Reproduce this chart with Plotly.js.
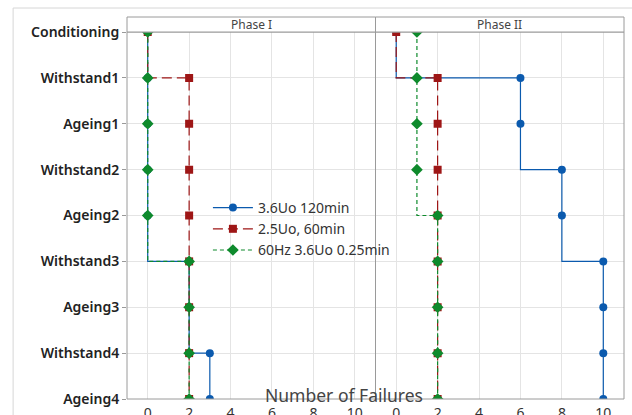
<!DOCTYPE html>
<html>
<head>
<meta charset="utf-8">
<script src="https://cdn.plot.ly/plotly-3.0.1.min.js"></script>
<style>html,body{margin:0;padding:0;background:#fff;}#chart{width:632px;height:415px;}</style>
</head>
<body>
<div id="chart"></div>
<script>
var categories = ['Conditioning','Withstand1','Ageing1','Withstand2','Ageing2','Withstand3','Ageing3','Withstand4','Ageing4'];
var seriesNames = ['3.6Uo 120min', '2.5Uo, 60min', '60Hz 3.6Uo 0.25min'];
var phaseLabels = ['Phase I', 'Phase II'];
var xTicks = [0, 2, 4, 6, 8, 10];

var phase1_36Uo = [0, 0, 0, 0, 0, 2, 2, 3, 3];
var phase1_25Uo = [0, 2, 2, 2, 2, 2, 2, 2, 2];
var phase1_60Hz = [0, 0, 0, 0, 0, 2, 2, 2, 2];
var phase2_36Uo = [0, 6, 6, 8, 8, 10, 10, 10, 10];
var phase2_25Uo = [0, 2, 2, 2, 2, 2, 2, 2, 2];
var phase2_60Hz = [1, 1, 1, 1, 2, 2, 2, 2, 2];

var colors = ['#0B5AAE', '#9E1616', '#0E8A2C'];
var symbols = ['circle', 'square', 'diamond'];
var dashes = ['solid', '10px,5px', '4px,3px'];

var phaseData = [[phase1_36Uo, phase1_25Uo, phase1_60Hz], [phase2_36Uo, phase2_25Uo, phase2_60Hz]];
var traces = [];
for (var p = 0; p < 2; p++) {
  for (var s = 0; s < 3; s++) {
    traces.push({
      type: 'scatter', mode: 'lines+markers',
      x: phaseData[p][s], y: categories,
      xaxis: p === 0 ? 'x' : 'x2', yaxis: 'y',
      name: seriesNames[s], legendgroup: seriesNames[s], showlegend: p === 0,
      line: {shape: 'vh', color: colors[s], width: 1.2, dash: dashes[s]},
      marker: {symbol: symbols[s], color: colors[s], size: s === 2 ? 9 : 8}
    });
  }
}

var W = 497.5, H = 367;
function px(v) { return (v - 127) / W; }
function py(v) { return (399 - v) / H; }

var axisCommon = {
  range: [-1, 11], tickvals: xTicks, ticktext: xTicks.map(String),
  showgrid: true, gridcolor: '#e4e4e4', gridwidth: 1, zeroline: false,
  showline: false, ticks: '', ticklabelstandoff: 4,
  tickfont: {family: 'Noto Sans', size: 14, color: '#333'}, anchor: 'y'
};
var xaxis1 = Object.assign({}, axisCommon, {domain: [0, 0.5]});
var xaxis2 = Object.assign({}, axisCommon, {domain: [0.5, 1]});

var layout = {
  width: 632, height: 415,
  margin: {l: 127, r: 7.5, t: 32, b: 16},
  paper_bgcolor: '#ffffff', plot_bgcolor: '#ffffff',
  showlegend: true,
  legend: {x: px(208), y: py(192), xanchor: 'left', yanchor: 'top', bgcolor: 'rgba(0,0,0,0)',
    font: {family: 'Noto Sans', size: 14, color: '#333'}, itemwidth: 40, tracegroupgap: 0},
  xaxis: xaxis1, xaxis2: xaxis2,
  yaxis: {type: 'category', categoryorder: 'array', categoryarray: categories, range: [8, 0],
    showgrid: true, gridcolor: '#e4e4e4', zeroline: false, showline: false,
    ticks: 'outside', ticklen: 4, tickcolor: '#999', tickwidth: 1,
    tickfont: {family: 'Noto Sans', size: 14, color: '#222', weight: 600}},
  shapes: [
    {type: 'rect', xref: 'paper', yref: 'paper', x0: px(13), x1: px(645), y0: py(425), y1: py(8), line: {color: '#d6d6d6', width: 1}, fillcolor: 'rgba(0,0,0,0)', layer: 'below'},
    {type: 'rect', xref: 'paper', yref: 'paper', x0: 0, x1: 0.5, y0: 0, y1: 1, line: {color: '#9a9a9a', width: 1}},
    {type: 'rect', xref: 'paper', yref: 'paper', x0: 0.5, x1: 1, y0: 0, y1: 1, line: {color: '#9a9a9a', width: 1}},
    {type: 'rect', xref: 'paper', yref: 'paper', x0: 0, x1: 0.5, y0: 1, y1: py(17), line: {color: '#9a9a9a', width: 1}, fillcolor: '#ffffff'},
    {type: 'rect', xref: 'paper', yref: 'paper', x0: 0.5, x1: 1, y0: 1, y1: py(17), line: {color: '#9a9a9a', width: 1}, fillcolor: '#ffffff'}
  ],
  annotations: [
    {text: phaseLabels[0], xref: 'paper', yref: 'paper', x: 0.25, y: py(24.5), xanchor: 'center', yanchor: 'middle', showarrow: false, font: {family: 'Noto Sans', size: 12, color: '#444'}},
    {text: phaseLabels[1], xref: 'paper', yref: 'paper', x: 0.75, y: py(24.5), xanchor: 'center', yanchor: 'middle', showarrow: false, font: {family: 'Noto Sans', size: 12, color: '#444'}},
    {text: 'Number of Failures', xref: 'paper', yref: 'paper', x: px(344), y: py(395), xanchor: 'center', yanchor: 'middle', showarrow: false, font: {family: 'Noto Sans', size: 17.5, color: '#444'}}
  ]
};

Plotly.newPlot('chart', traces, layout, {displayModeBar: false, staticPlot: true});
</script>
</body>
</html>
